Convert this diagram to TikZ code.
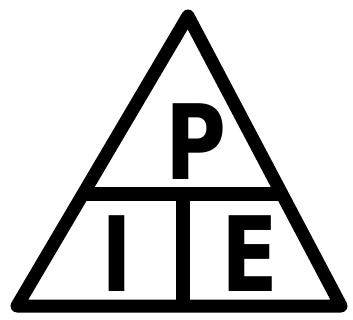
\documentclass[tikz,border=0pt]{standalone}
\usepackage{fontspec}
\setmainfont{DejaVu Sans}
\usetikzlibrary{calc}

\begin{document}
\begin{tikzpicture}[
    x=1pt, y=-1pt,
    edge/.style={draw=black, line width=13pt, line join=round, line cap=round},
    bar/.style={draw=black, line width=14pt},
    letter/.style={font=\fontsize{104}{104}\selectfont\bfseries, inner sep=0pt, transform shape, xscale=0.8}
]
\useasboundingbox (0,0) rectangle (353,320);
\coordinate (apex) at (188,16);
\coordinate (bl) at (17,306);
\coordinate (br) at (341,306);
\coordinate (hl) at ($(apex)!0.615!(bl)$);
\coordinate (hr) at ($(apex)!0.615!(br)$);
\coordinate (vt) at (183,195);
\coordinate (vb) at (183,306);
\draw[edge] (apex) -- (bl) -- (br) -- cycle;
\draw[bar] (hl) -- (hr);
\draw[bar] (vt) -- (vb);
\node[letter] (p) at (196,142) {P};
\node[letter] (i) at (117,254) {I};
\node[letter] (e) at (250,254) {E};
\end{tikzpicture}
\end{document}
